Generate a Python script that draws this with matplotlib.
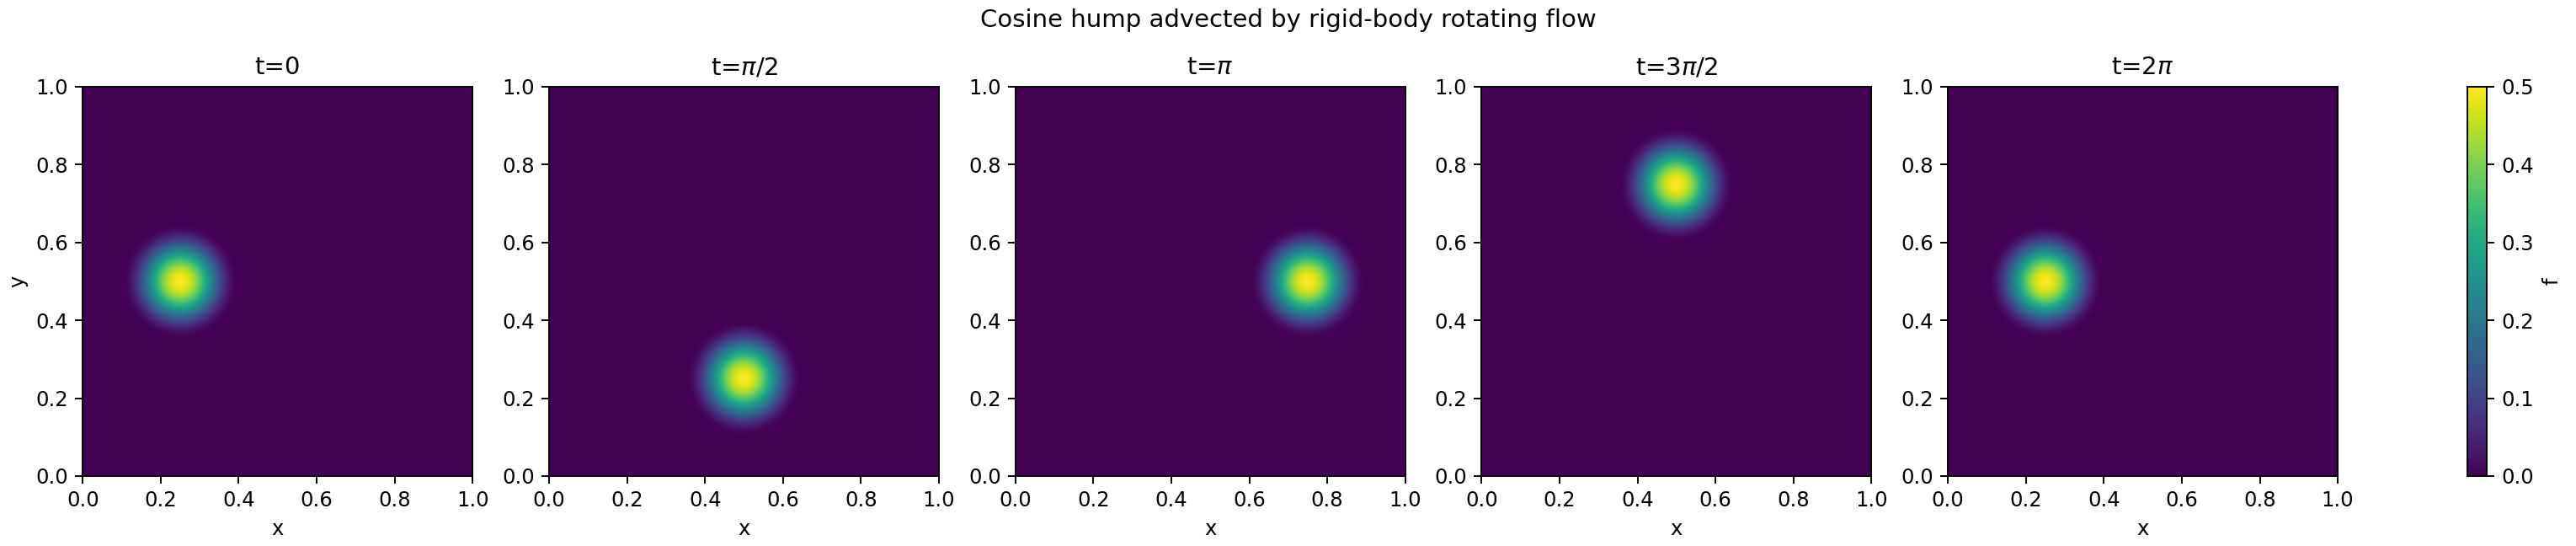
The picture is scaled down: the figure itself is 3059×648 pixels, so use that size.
import numpy as np
import matplotlib
matplotlib.use("Agg")
import matplotlib.pyplot as plt

# snapshot labels and hump centres
titles = ["t=0", r"t=$\pi/2$", r"t=$\pi$", r"t=$3\pi/2$", r"t=$2\pi$"]
center_x = [0.25, 0.50, 0.75, 0.50, 0.25]
center_y = [0.50, 0.25, 0.50, 0.75, 0.50]
hump_radius = 0.15
hump_peak = 0.5

n = 256
xs = np.linspace(0, 1, n)
X, Y = np.meshgrid(xs, xs)

DPI = 175
fig = plt.figure(figsize=(3060 / DPI, 648 / DPI), dpi=DPI)

W, H = 3060.0, 648.0
ax_w = 463 / W
ax_h = 462 / H
bottom = (H - 565) / H
pitch = 553.7 / W

im = None
for i, (cx, cy, title) in enumerate(zip(center_x, center_y, titles)):
    ax = fig.add_axes([98.3 / W + i * pitch, bottom, ax_w, ax_h])
    r = np.sqrt((X - cx) ** 2 + (Y - cy) ** 2)
    f = np.where(r < hump_radius,
                 0.5 * hump_peak * (1 + np.cos(np.pi * r / hump_radius)), 0.0)
    im = ax.imshow(f, origin="lower", extent=[0, 1, 0, 1], cmap="viridis",
                   vmin=0, vmax=0.5, aspect="auto", interpolation="bilinear")
    ax.set_title(title, fontsize=12)
    ax.set_xlabel("x")
    if i == 0:
        ax.set_ylabel("y")
    ax.set_xticks(np.arange(0, 1.01, 0.2))
    ax.set_yticks(np.arange(0, 1.01, 0.2))

cax = fig.add_axes([2930 / W, bottom, 23 / W, ax_h])
cb = fig.colorbar(im, cax=cax)
cb.set_label("f")

fig.suptitle("Cosine hump advected by rigid-body rotating flow", fontsize=12,
             x=0.5, y=0.985)

fig.savefig("out.png", dpi=DPI)
